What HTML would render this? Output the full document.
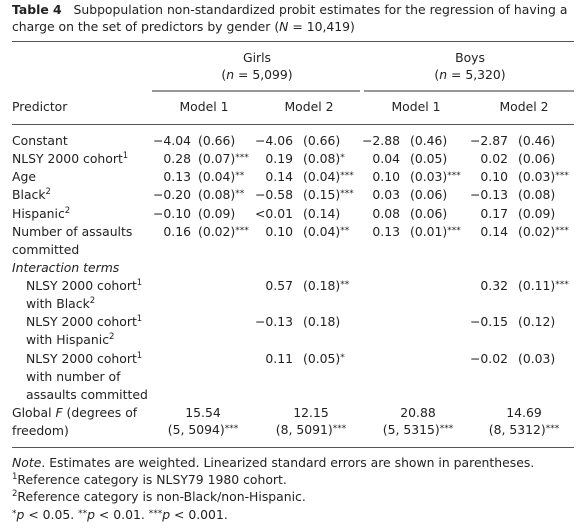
<!DOCTYPE html>
<html><head><meta charset="utf-8">
<style>
body{margin:0;background:#fff;}
#t{position:relative;width:584px;height:529px;overflow:hidden;font-family:"DejaVu Sans","Liberation Sans",sans-serif;font-size:12.4px;color:#222;}
#t div{position:absolute;white-space:nowrap;line-height:16px;}
#body{left:0;top:0;width:584px;height:529px;}
.r{text-align:right;}
.c{text-align:center;transform:translateX(-50%);}
.rule{height:1px;background:#555;}
.sub{height:2px;background:#999;}
sup{font-size:8.5px;vertical-align:5px;line-height:0;}
.st{font-size:9px;vertical-align:3px;line-height:0;}
</style></head><body>
<div id="t">
<div style="left:12px;top:2px"><b>Table 4</b>&nbsp;&nbsp; Subpopulation non-standardized probit estimates for the regression of having a</div>
<div style="left:12px;top:19px">charge on the set of predictors by gender (<i>N</i> = 10,419)</div>
<div class="rule" style="left:12px;top:41px;width:562px"></div>
<div class="c" style="left:257px;top:50px">Girls</div>
<div class="c" style="left:257px;top:67px">(<i>n</i> = 5,099)</div>
<div class="c" style="left:470px;top:50px">Boys</div>
<div class="c" style="left:470px;top:67px">(<i>n</i> = 5,320)</div>
<div class="sub" style="left:152px;top:90px;width:208px"></div>
<div class="sub" style="left:364px;top:90px;width:210px"></div>
<div style="left:12px;top:99px">Predictor</div>
<div class="c" style="left:204px;top:99px">Model 1</div>
<div class="c" style="left:309px;top:99px">Model 2</div>
<div class="c" style="left:416px;top:99px">Model 1</div>
<div class="c" style="left:524px;top:99px">Model 2</div>
<div class="rule" style="left:12px;top:124px;width:562px"></div>
<div id="body"></div>
<div class="c" style="left:203px;top:405px">15.54</div>
<div class="c" style="left:203px;top:422px">(5, 5094)<span class="st">***</span></div>
<div class="c" style="left:311px;top:405px">12.15</div>
<div class="c" style="left:311px;top:422px">(8, 5091)<span class="st">***</span></div>
<div class="c" style="left:418px;top:405px">20.88</div>
<div class="c" style="left:418px;top:422px">(5, 5315)<span class="st">***</span></div>
<div class="c" style="left:524px;top:405px">14.69</div>
<div class="c" style="left:524px;top:422px">(8, 5312)<span class="st">***</span></div>
<div class="rule" style="left:12px;top:447px;width:562px"></div>
<div style="left:12px;top:455px"><i>Note</i>. Estimates are weighted. Linearized standard errors are shown in parentheses.</div>
<div style="left:12px;top:472px"><sup>1</sup>Reference category is NLSY79 1980 cohort.</div>
<div style="left:12px;top:489px"><sup>2</sup>Reference category is non-Black/non-Hispanic.</div>
<div style="left:12px;top:507px"><span class="st">*</span><i>p</i> &lt; 0.05. <span class="st">**</span><i>p</i> &lt; 0.01. <span class="st">***</span><i>p</i> &lt; 0.001.</div>
</div>
<script>
const labels=[["Constant",0],["NLSY 2000 cohort<sup>1</sup>",0],["Age",0],["Black<sup>2</sup>",0],["Hispanic<sup>2</sup>",0],["Number of assaults",0],["committed",0],["<i>Interaction terms</i>",0],["NLSY 2000 cohort<sup>1</sup>",1],["with Black<sup>2</sup>",1],["NLSY 2000 cohort<sup>1</sup>",1],["with Hispanic<sup>2</sup>",1],["NLSY 2000 cohort<sup>1</sup>",1],["with number of",1],["assaults committed",1],["Global <i>F</i> (degrees of",0],["freedom)",0]];
const cells=[
[0,["−4.04","(0.66)",""],["−4.06","(0.66)",""],["−2.88","(0.46)",""],["−2.87","(0.46)",""]],
[1,["0.28","(0.07)","***"],["0.19","(0.08)","*"],["0.04","(0.05)",""],["0.02","(0.06)",""]],
[2,["0.13","(0.04)","**"],["0.14","(0.04)","***"],["0.10","(0.03)","***"],["0.10","(0.03)","***"]],
[3,["−0.20","(0.08)","**"],["−0.58","(0.15)","***"],["0.03","(0.06)",""],["−0.13","(0.08)",""]],
[4,["−0.10","(0.09)",""],["&lt;0.01","(0.14)",""],["0.08","(0.06)",""],["0.17","(0.09)",""]],
[5,["0.16","(0.02)","***"],["0.10","(0.04)","**"],["0.13","(0.01)","***"],["0.14","(0.02)","***"]],
[8,null,["0.57","(0.18)","**"],null,["0.32","(0.11)","***"]],
[10,null,["−0.13","(0.18)",""],null,["−0.15","(0.12)",""]],
[12,null,["0.11","(0.05)","*"],null,["−0.02","(0.03)",""]]];
const estR=[191,293,400,508], seL=[198,303,410,518];
const body=document.getElementById('body');
const yOf=i=>141+18.13*i-8;
labels.forEach((l,i)=>{
 const d=document.createElement('div');
 
 
 d.style.left=(l[1]?26:12)+'px';d.style.top=yOf(i)+'px';d.innerHTML=l[0];body.appendChild(d);
});
cells.forEach(r=>{
 for(let c=0;c<4;c++){const v=r[c+1];if(!v)continue;
  const e=document.createElement('div');
  
  
  e.className='r';e.style.right=(584-estR[c])+'px';e.style.top=yOf(r[0])+'px';e.innerHTML=v[0];body.appendChild(e);
  const s=document.createElement('div');
  
  
  s.style.left=seL[c]+'px';s.style.top=yOf(r[0])+'px';s.innerHTML=v[1]+(v[2]?'<span class="st">'+v[2]+'</span>':'');body.appendChild(s);
 }
});
</script>
</body></html>
